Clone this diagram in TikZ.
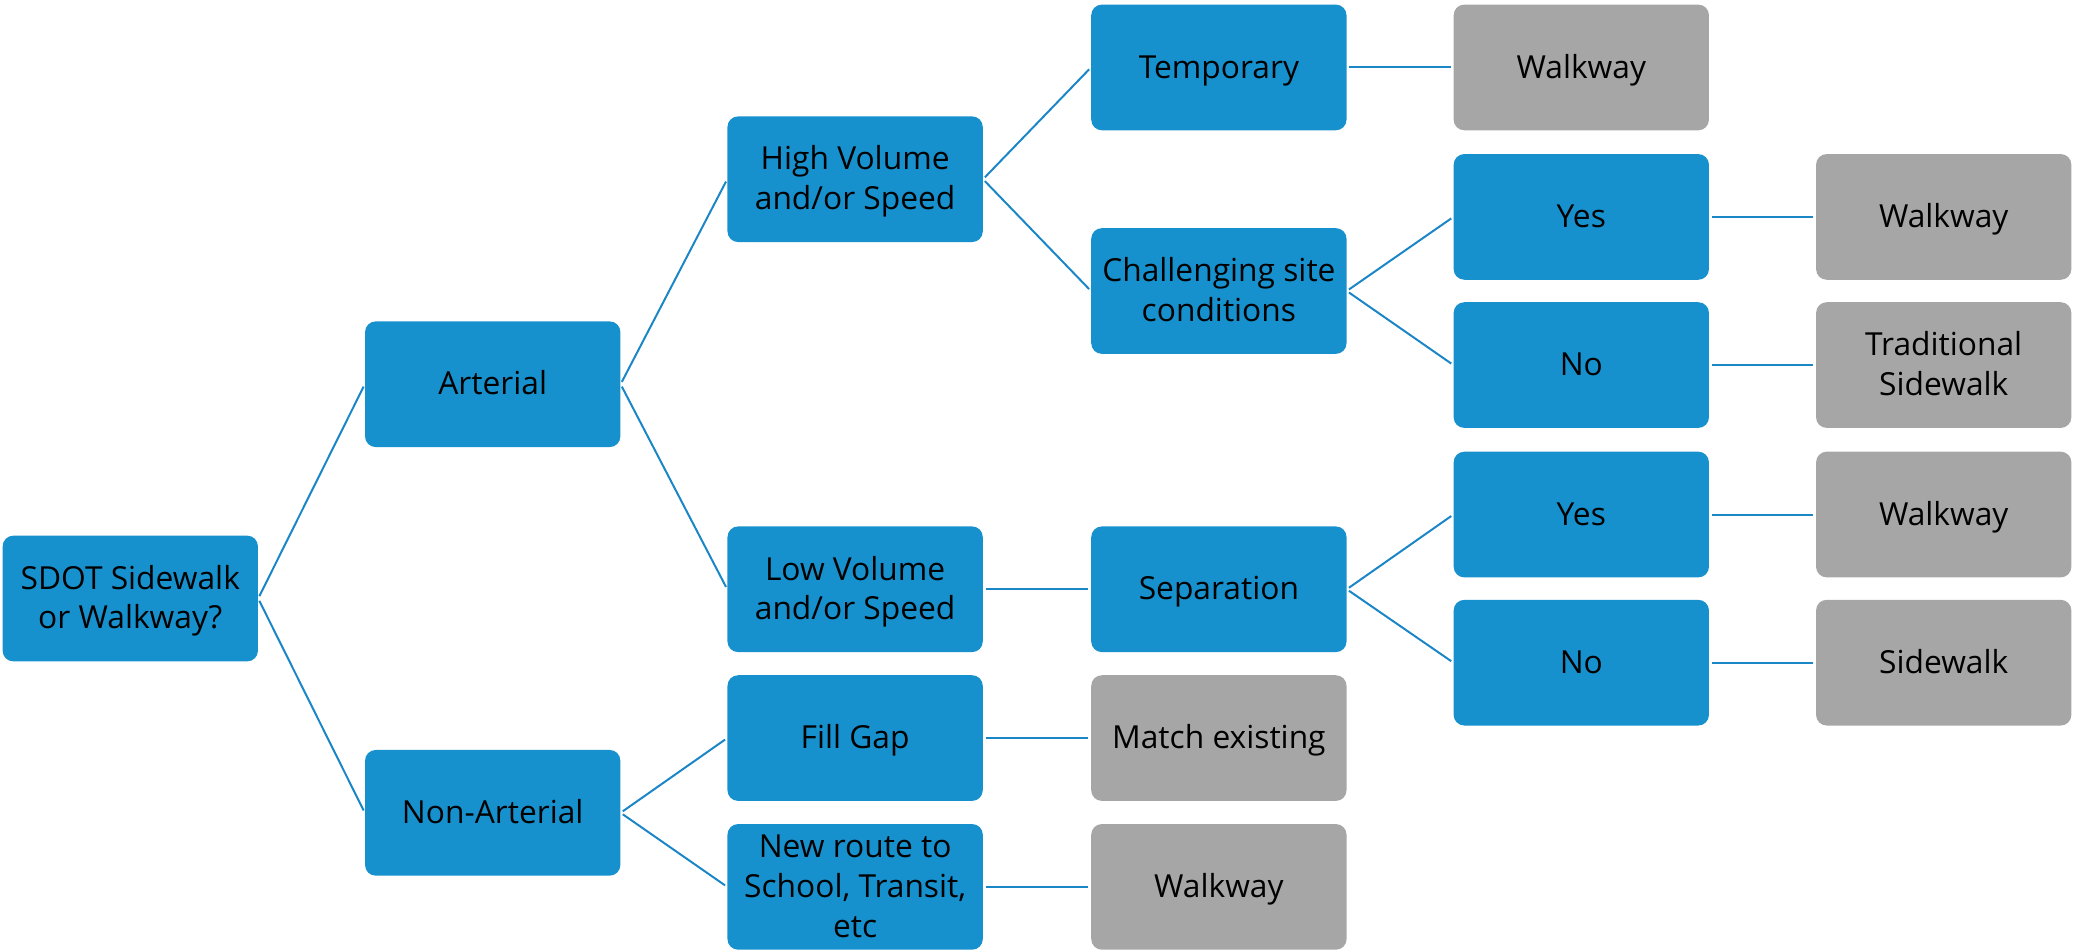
\documentclass[tikz,border=0pt]{standalone}
\usepackage{fontspec}
\setmainfont{Open Sans}
\definecolor{boxblue}{HTML}{1791CE}
\definecolor{boxgray}{HTML}{A6A6A6}
\definecolor{linkblue}{HTML}{1A86C7}
\newcommand\bt[1]{\raisebox{-2pt}[\height][\depth]{\begin{tabular}{@{}c@{}}#1\end{tabular}}}
\begin{document}
\begin{tikzpicture}[x=1pt,y=-1pt,
  box/.style={rounded corners=8pt, minimum width=193pt, minimum height=95pt,
    inner sep=0pt, font=\fontsize{24}{30}\selectfont, text=black},
  bluebox/.style={box, fill=boxblue},
  graybox/.style={box, fill=boxgray},
  link/.style={draw=linkblue, line width=1.5pt, shorten >=2pt, shorten <=2pt}]
\useasboundingbox (0,0) rectangle (1568,719);
% column 1
\node[bluebox] (sdot) at (98.5,452.5) {\bt{SDOT Sidewalk\\or Walkway?}};
% column 2
\node[bluebox] (art) at (372.5,290.5) {\bt{Arterial}};
\node[bluebox] (nonart) at (372.5,614.5) {\bt{Non-Arterial}};
% column 3
\node[bluebox] (high) at (646.5,135.5) {\bt{High Volume\\and/or Speed}};
\node[bluebox] (low) at (646.5,445.5) {\bt{Low Volume\\and/or Speed}};
\node[bluebox] (fill) at (646.5,558) {\bt{Fill Gap}};
\node[bluebox] (newr) at (646.5,670.5) {\bt{New route to\\School, Transit,\\etc}};
% column 4
\node[bluebox] (temp) at (921.5,51) {\bt{Temporary}};
\node[bluebox] (chal) at (921.5,220) {\bt{Challenging site\\conditions}};
\node[bluebox] (sep) at (921.5,445.5) {\bt{Separation}};
\node[graybox] (match) at (921.5,558) {\bt{Match existing}};
\node[graybox] (walk4) at (921.5,670.5) {\bt{Walkway}};
% column 5
\node[graybox] (walk1) at (1195.5,51) {\bt{Walkway}};
\node[bluebox] (yes1) at (1195.5,164) {\bt{Yes}};
\node[bluebox] (no1) at (1195.5,276) {\bt{No}};
\node[bluebox] (yes2) at (1195.5,389) {\bt{Yes}};
\node[bluebox] (no2) at (1195.5,501) {\bt{No}};
% column 6
\node[graybox] (walk2) at (1469.5,164) {\bt{Walkway}};
\node[graybox] (trad) at (1469.5,276) {\bt{Traditional\\Sidewalk}};
\node[graybox] (walk3) at (1469.5,389) {\bt{Walkway}};
\node[graybox] (side) at (1469.5,501) {\bt{Sidewalk}};
% connectors
\draw[link] (sdot.east) -- (art.west);
\draw[link] (sdot.east) -- (nonart.west);
\draw[link] (art.east) -- (high.west);
\draw[link] (art.east) -- (low.west);
\draw[link] (nonart.east) -- (fill.west);
\draw[link] (nonart.east) -- (newr.west);
\draw[link] (high.east) -- (temp.west);
\draw[link] (high.east) -- (chal.west);
\draw[link] (low.east) -- (sep.west);
\draw[link] (fill.east) -- (match.west);
\draw[link] (newr.east) -- (walk4.west);
\draw[link] (temp.east) -- (walk1.west);
\draw[link] (chal.east) -- (yes1.west);
\draw[link] (chal.east) -- (no1.west);
\draw[link] (sep.east) -- (yes2.west);
\draw[link] (sep.east) -- (no2.west);
\draw[link] (yes1.east) -- (walk2.west);
\draw[link] (no1.east) -- (trad.west);
\draw[link] (yes2.east) -- (walk3.west);
\draw[link] (no2.east) -- (side.west);
\end{tikzpicture}
\end{document}
